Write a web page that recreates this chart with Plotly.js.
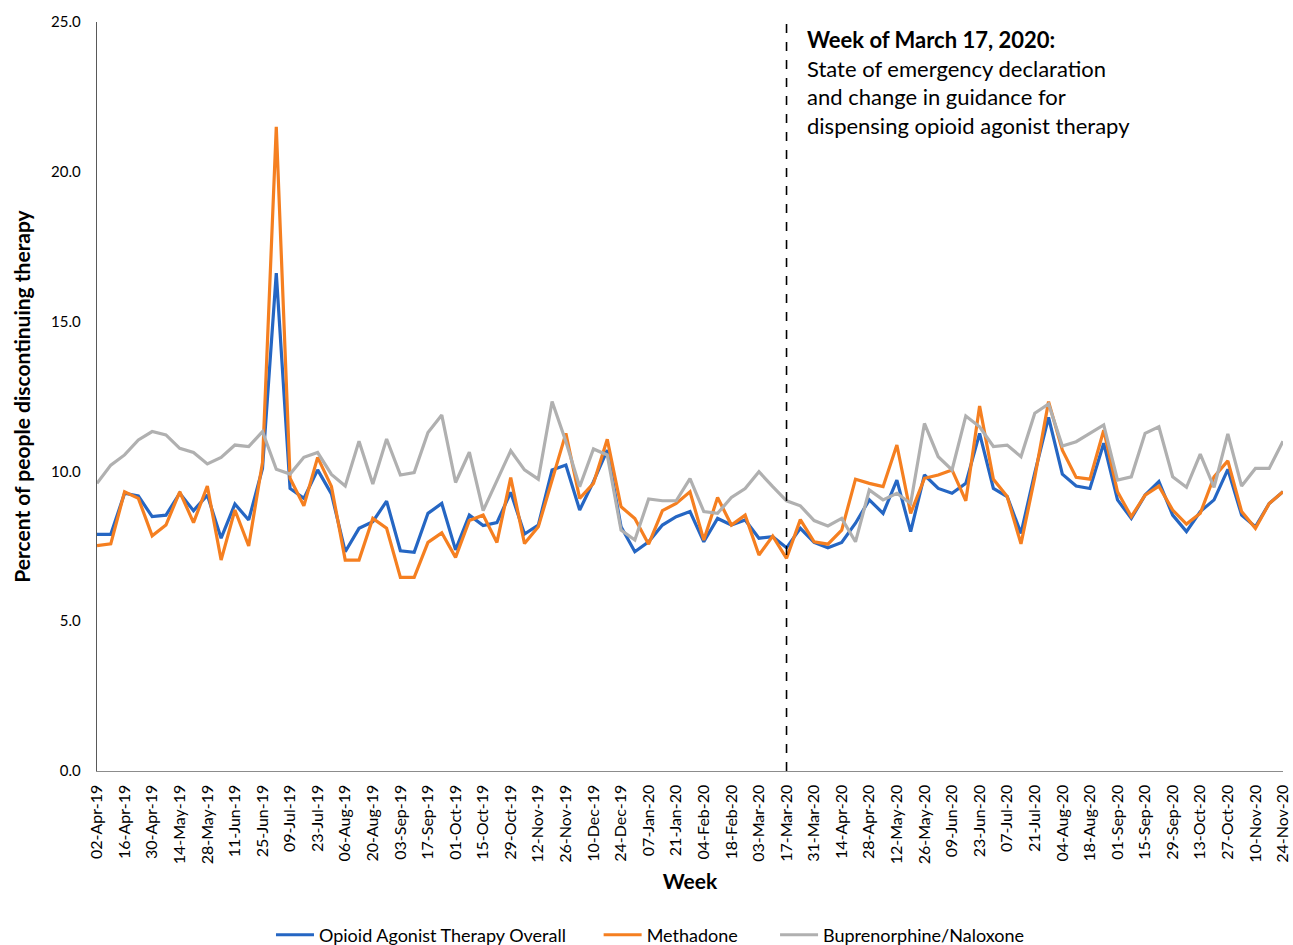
<!DOCTYPE html>
<html>
<head>
<meta charset="utf-8">
<script src="https://cdn.plot.ly/plotly-3.0.1.min.js"></script>
<style>
  html, body { margin: 0; padding: 0; background: #fff; }
  #chart { width: 1293px; height: 945px; }
</style>
</head>
<body>
<div id="chart"></div>
<script>
// Weekly categories
const weeks = [
  '02-Apr-19','09-Apr-19','16-Apr-19','23-Apr-19','30-Apr-19','07-May-19','14-May-19','21-May-19','28-May-19','04-Jun-19',
  '11-Jun-19','18-Jun-19','25-Jun-19','02-Jul-19','09-Jul-19','16-Jul-19','23-Jul-19','30-Jul-19','06-Aug-19','13-Aug-19',
  '20-Aug-19','27-Aug-19','03-Sep-19','10-Sep-19','17-Sep-19','24-Sep-19','01-Oct-19','08-Oct-19','15-Oct-19','22-Oct-19',
  '29-Oct-19','05-Nov-19','12-Nov-19','19-Nov-19','26-Nov-19','03-Dec-19','10-Dec-19','17-Dec-19','24-Dec-19','31-Dec-19',
  '07-Jan-20','14-Jan-20','21-Jan-20','28-Jan-20','04-Feb-20','11-Feb-20','18-Feb-20','25-Feb-20','03-Mar-20','10-Mar-20',
  '17-Mar-20','24-Mar-20','31-Mar-20','07-Apr-20','14-Apr-20','21-Apr-20','28-Apr-20','05-May-20','12-May-20','19-May-20',
  '26-May-20','02-Jun-20','09-Jun-20','16-Jun-20','23-Jun-20','30-Jun-20','07-Jul-20','14-Jul-20','21-Jul-20','28-Jul-20',
  '04-Aug-20','11-Aug-20','18-Aug-20','25-Aug-20','01-Sep-20','08-Sep-20','15-Sep-20','22-Sep-20','29-Sep-20','06-Oct-20',
  '13-Oct-20','20-Oct-20','27-Oct-20','03-Nov-20','10-Nov-20','17-Nov-20','24-Nov-20'
];

// Tick labels (every second week)
const tickLabels = [
  '02-Apr-19','16-Apr-19','30-Apr-19','14-May-19','28-May-19','11-Jun-19','25-Jun-19','09-Jul-19','23-Jul-19','06-Aug-19',
  '20-Aug-19','03-Sep-19','17-Sep-19','01-Oct-19','15-Oct-19','29-Oct-19','12-Nov-19','26-Nov-19','10-Dec-19','24-Dec-19',
  '07-Jan-20','21-Jan-20','04-Feb-20','18-Feb-20','03-Mar-20','17-Mar-20','31-Mar-20','14-Apr-20','28-Apr-20','12-May-20',
  '26-May-20','09-Jun-20','23-Jun-20','07-Jul-20','21-Jul-20','04-Aug-20','18-Aug-20','01-Sep-20','15-Sep-20','29-Sep-20',
  '13-Oct-20','27-Oct-20','10-Nov-20','24-Nov-20'
];

// Percent of people discontinuing therapy
const overall = [
  7.90, 7.90, 9.27, 9.18, 8.49, 8.54, 9.27, 8.69, 9.21, 7.77,
  8.91, 8.38, 10.10, 16.62, 9.43, 9.10, 10.05, 9.25, 7.32, 8.10,
  8.32, 9.01, 7.35, 7.30, 8.60, 8.93, 7.38, 8.54, 8.19, 8.29,
  9.30, 7.91, 8.21, 10.05, 10.21, 8.71, 9.66, 10.71, 8.15, 7.32,
  7.65, 8.21, 8.49, 8.66, 7.65, 8.43, 8.21, 8.38, 7.77, 7.82,
  7.45, 8.10, 7.63, 7.45, 7.63, 8.27, 9.05, 8.60, 9.71, 7.99,
  9.88, 9.43, 9.27, 9.60, 11.27, 9.43, 9.16, 7.93, 9.95, 11.80,
  9.91, 9.51, 9.43, 10.94, 9.05, 8.43, 9.21, 9.66, 8.54, 7.99,
  8.66, 9.05, 10.07, 8.54, 8.15, 8.93, 9.32
];

const methadone = [
  7.52, 7.58, 9.32, 9.10, 7.85, 8.21, 9.32, 8.29, 9.51, 7.04,
  8.71, 7.51, 10.30, 21.50, 9.77, 8.85, 10.47, 9.50, 7.04, 7.04,
  8.43, 8.10, 6.46, 6.46, 7.63, 7.95, 7.13, 8.36, 8.54, 7.63,
  9.79, 7.59, 8.15, 9.70, 11.27, 9.10, 9.60, 11.07, 8.82, 8.43,
  7.57, 8.69, 8.93, 9.32, 7.71, 9.13, 8.21, 8.54, 7.21, 7.84,
  7.10, 8.39, 7.65, 7.57, 8.04, 9.74, 9.60, 9.49, 10.88, 8.60,
  9.77, 9.88, 10.05, 9.02, 12.18, 9.74, 9.16, 7.58, 9.80, 12.33,
  10.71, 9.80, 9.74, 11.38, 9.32, 8.49, 9.21, 9.51, 8.71, 8.24,
  8.60, 9.82, 10.35, 8.66, 8.10, 8.93, 9.32
];

const buprenorphine = [
  9.60, 10.21, 10.55, 11.05, 11.33, 11.22, 10.77, 10.63, 10.25, 10.47,
  10.88, 10.83, 11.33, 10.07, 9.91, 10.47, 10.63, 9.90, 9.51, 11.01,
  9.58, 11.08, 9.88, 9.96, 11.30, 11.88, 9.63, 10.64, 8.69, 9.71,
  10.69, 10.05, 9.74, 12.33, 11.00, 9.49, 10.75, 10.55, 8.04, 7.71,
  9.08, 9.02, 9.02, 9.76, 8.66, 8.60, 9.13, 9.43, 9.99, 9.49,
  9.02, 8.85, 8.36, 8.18, 8.43, 7.65, 9.38, 9.05, 9.27, 8.93,
  11.60, 10.49, 10.05, 11.85, 11.49, 10.83, 10.88, 10.49, 11.94, 12.25,
  10.85, 10.99, 11.27, 11.55, 9.71, 9.82, 11.27, 11.49, 9.82, 9.47,
  10.58, 9.47, 11.25, 9.51, 10.10, 10.10, 11.01
];

const seriesNames = ['Opioid Agonist Therapy Overall', 'Methadone', 'Buprenorphine/Naloxone'];
const seriesColors = ['#2566c3', '#f57f20', '#b0b0b0'];
const legendPad = [6, 7, 0];
const eventWeek = '17-Mar-20';

const FONT = 'Lato, "Open Sans", "Liberation Sans", sans-serif';

const traces = [overall, methadone, buprenorphine].map((vals, k) => ({
  type: 'scatter',
  mode: 'lines',
  name: seriesNames[k] + '&nbsp;'.repeat(legendPad[k]),
  x: weeks,
  y: vals,
  line: { color: seriesColors[k], width: 3.2 },
  hoverinfo: 'x+y'
}));

const layout = {
  width: 1293,
  height: 945,
  margin: { l: 97, r: 10, t: 22, b: 174, autoexpand: false },
  paper_bgcolor: '#ffffff',
  plot_bgcolor: '#ffffff',
  font: { family: FONT, color: '#000000' },
  showlegend: true,
  legend: {
    orientation: 'h',
    x: 0.1467, xanchor: 'left',
    y: -0.219, yanchor: 'middle',
    font: { size: 18, color: '#000000', family: FONT },
    itemwidth: 38,
    traceorder: 'normal'
  },
  xaxis: {
    type: 'category',
    range: [0, weeks.length - 1],
    tickmode: 'array',
    tickvals: tickLabels,
    ticktext: tickLabels,
    tickangle: -90,
    tickfont: { size: 16, color: '#000000', family: FONT },
    ticks: '',
    ticklabelstandoff: 6,
    showgrid: false,
    zeroline: false,
    showline: true,
    linecolor: '#8c8c8c',
    linewidth: 1.3,
    automargin: false,
    title: { text: '<b>Week</b>', font: { size: 21, color: '#000000', family: FONT }, standoff: 11 }
  },
  yaxis: {
    range: [0, 25],
    tickmode: 'linear',
    tick0: 0,
    dtick: 5,
    tickformat: '.1f',
    tickfont: { size: 15, color: '#000000', family: FONT },
    ticks: '',
    ticklabelstandoff: 12,
    showgrid: false,
    zeroline: false,
    showline: true,
    linecolor: '#595959',
    linewidth: 1.3,
    automargin: false,
    title: { text: '<b>Percent of people discontinuing therapy</b>', font: { size: 21, color: '#000000', family: FONT }, standoff: 14 }
  },
  shapes: [{
    type: 'line',
    xref: 'x', yref: 'paper',
    x0: eventWeek, x1: eventWeek,
    y0: 0, y1: 1,
    line: { color: '#000000', width: 1.6, dash: 'dash' }
  }],
  annotations: [{
    xref: 'x', yref: 'paper',
    x: eventWeek, y: 1,
    xanchor: 'left', yanchor: 'top',
    xshift: 18, yshift: -2,
    align: 'left',
    showarrow: false,
    font: { size: 22, color: '#000000', family: FONT },
    text: '<b>Week of March 17, 2020:</b><br>State of emergency declaration<br>and change in guidance for<br>dispensing opioid agonist therapy'
  }]
};

Plotly.newPlot('chart', traces, layout, { displayModeBar: false, staticPlot: true });
</script>
</body>
</html>
